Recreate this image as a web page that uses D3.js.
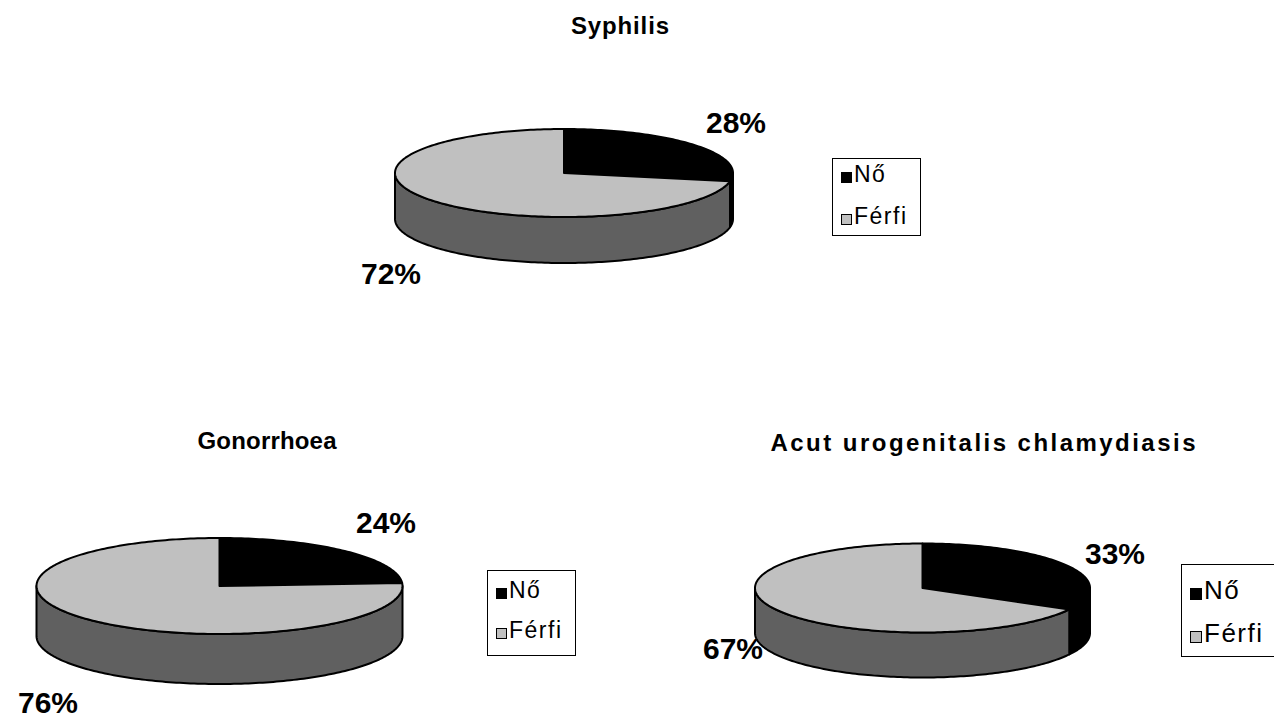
<!DOCTYPE html>
<html>
<head>
<meta charset="utf-8">
<script src="https://cdn.jsdelivr.net/npm/d3@7"></script>
<style>
  body { margin: 0; background: #fff; }
  svg { display: block; font-family: "Liberation Sans", Arial, sans-serif; }
</style>
</head>
<body>
<svg id="chart"></svg>
<script>
// data
var titles = ['Syphilis', 'Gonorrhoea', 'Acut urogenitalis chlamydiasis'];
var categories = ['Nő', 'Férfi'];
var noValues = [28, 24, 33];
var ferfiValues = [72, 76, 67];

var topColors = ['#000000', '#c0c0c0'];
var sideColors = ['#000000', '#606060'];

// layout of the three pies
var layout = [
  { cx: 564, cy: 173, rx: 169, ry: 44, depth: 46,
    title: [620, 34, 98], labels: [[736, 133], [391, 284]],
    legend: { x: 832, y: 158, w: 88, h: 77, sq: 10, font: 23, rows: [182, 224] } },
  { cx: 219.5, cy: 586, rx: 183, ry: 48, depth: 50,
    title: [267, 449, 139], labels: [[386, 533], [48, 713]],
    legend: { x: 487, y: 570, w: 88, h: 85, sq: 10, font: 23, rows: [598, 638] } },
  { cx: 922.5, cy: 588, rx: 167.5, ry: 44.5, depth: 45,
    title: [983, 451, 425], labels: [[1115, 564], [733, 659]],
    legend: { x: 1181, y: 564, w: 110, h: 92, sq: 11, font: 26, rows: [599, 642] } }
];

var width = 1274, height = 721;
var svg = d3.select('#chart').attr('width', width).attr('height', height);

var pie = d3.pie().sort(null).value(d => d.value);
var line = d3.line();

function drawPie(i) {
  var L = layout[i];
  var data = [
    { name: categories[0], value: noValues[i] },
    { name: categories[1], value: ferfiValues[i] }
  ];
  var arcs = pie(data);
  var g = svg.append('g');

  function pt(a, dy) {
    return [L.cx + L.rx * Math.sin(a), L.cy - L.ry * Math.cos(a) + (dy || 0)];
  }
  function arcPts(a0, a1, dy) {
    var n = Math.max(2, Math.ceil(Math.abs(a1 - a0) / 0.02));
    return d3.range(n + 1).map(k => pt(a0 + (a1 - a0) * k / n, dy));
  }

  // side walls (only the front half is visible)
  arcs.forEach((d, j) => {
    var lo = Math.max(d.startAngle, Math.PI / 2);
    var hi = Math.min(d.endAngle, Math.PI * 1.5);
    if (lo >= hi) return;
    var pts = arcPts(lo, hi, 0).concat(arcPts(hi, lo, L.depth));
    g.append('path')
      .attr('d', line(pts) + 'Z')
      .attr('fill', sideColors[j])
      .attr('stroke', '#000')
      .attr('stroke-width', 2)
      .attr('stroke-linejoin', 'round');
  });

  // top faces
  arcs.forEach((d, j) => {
    var pts = [[L.cx, L.cy]].concat(arcPts(d.startAngle, d.endAngle, 0));
    g.append('path')
      .attr('d', line(pts) + 'Z')
      .attr('fill', topColors[j])
      .attr('stroke', '#000')
      .attr('stroke-width', 2)
      .attr('stroke-linejoin', 'round');
  });

  // percentage labels
  arcs.forEach((d, j) => {
    g.append('text')
      .attr('x', L.labels[j][0])
      .attr('y', L.labels[j][1])
      .attr('text-anchor', 'middle')
      .style('font-size', '30px')
      .style('font-weight', 'bold')
      .text(d.data.value + '%');
  });

  // title
  svg.append('text')
    .attr('x', L.title[0])
    .attr('y', L.title[1])
    .attr('text-anchor', 'middle')
    .attr('textLength', L.title[2])
    .attr('lengthAdjust', 'spacing')
    .style('font-size', '24px')
    .style('font-weight', 'bold')
    .text(titles[i]);

  // legend
  var lg = L.legend;
  var leg = svg.append('g');
  leg.append('rect')
    .attr('x', lg.x + 0.5).attr('y', lg.y + 0.5)
    .attr('width', lg.w).attr('height', lg.h)
    .attr('fill', '#fff').attr('stroke', '#000').attr('stroke-width', 1);
  categories.forEach((c, j) => {
    leg.append('rect')
      .attr('x', lg.x + 9.5).attr('y', lg.rows[j] - lg.sq + 0.5)
      .attr('width', lg.sq).attr('height', lg.sq)
      .attr('fill', topColors[j]).attr('stroke', '#000').attr('stroke-width', 1);
    leg.append('text')
      .attr('x', lg.x + 12 + lg.sq)
      .attr('y', lg.rows[j])
      .style('font-size', lg.font + 'px')
      .style('letter-spacing', '1.5px')
      .text(c);
  });
}

titles.forEach((t, i) => drawPie(i));
</script>
</body>
</html>
